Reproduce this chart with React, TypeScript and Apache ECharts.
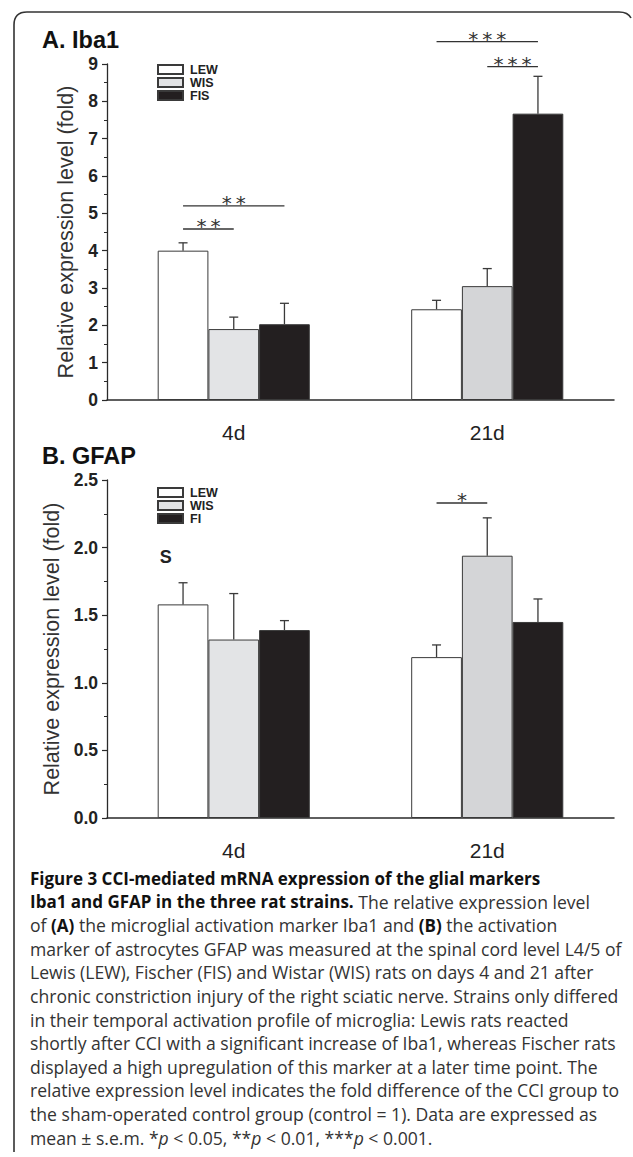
import React, { useEffect, useRef } from "react";
import * as echarts from "echarts";

// ---------- data ----------
const categories = ["4d", "21d"];
const namesA = ["LEW", "WIS", "FIS"];
const namesB = ["LEW", "WIS", "FI"];

// A. Iba1 (means and upper ends of the error bars), per category [4d, 21d]
const iba1LEW = [4.0, 2.43];
const iba1WIS = [1.9, 3.05];
const iba1FIS = [2.03, 7.67];
const iba1LEWTop = [4.21, 2.67];
const iba1WISTop = [2.22, 3.52];
const iba1FISTop = [2.59, 8.67];

// B. GFAP
const gfapLEW = [1.58, 1.19];
const gfapWIS = [1.32, 1.94];
const gfapFI = [1.39, 1.45];
const gfapLEWTop = [1.74, 1.28];
const gfapWISTop = [1.66, 2.22];
const gfapFITop = [1.46, 1.62];

// significance bars: [category, fromBar, toBar, y]
const iba1Sig = [
  [0, 0, 2, 5.2],
  [0, 0, 1, 4.58],
  [1, 0, 2, 9.6],
  [1, 1, 2, 8.93],
];
const iba1SigLabels = ["**", "**", "***", "***"];
const gfapSig = [[1, 0, 1, 2.33]];
const gfapSigLabels = ["*"];
// notes: [category, bar, y]
const gfapNotes = [[0, 0, 1.93]];
const gfapNoteLabels = ["S"];

const iba1Ticks = { min: 0, max: 9, interval: 1 };
const gfapTicks = { min: 0, max: 2.5, interval: 0.5 };

const captionLines = [
  "{b|Figure 3 CCI-mediated mRNA expression of the glial markers}",
  "{b|Iba1 and GFAP in the three rat strains.} The relative expression level",
  "of {b|(A)} the microglial activation marker Iba1 and {b|(B)} the activation",
  "marker of astrocytes GFAP was measured at the spinal cord level L4/5 of",
  "Lewis (LEW), Fischer (FIS) and Wistar (WIS) rats on days 4 and 21 after",
  "chronic constriction injury of the right sciatic nerve. Strains only differed",
  "in their temporal activation profile of microglia: Lewis rats reacted",
  "shortly after CCI with a significant increase of Iba1, whereas Fischer rats",
  "displayed a high upregulation of this marker at a later time point. The",
  "relative expression level indicates the fold difference of the CCI group to",
  "the sham-operated control group (control = 1). Data are expressed as",
  "mean ± s.e.m. *{i|p} < 0.05, **{i|p} < 0.01, ***{i|p} < 0.001.",
];

// ---------- style ----------
const W = 633;
const H = 1157;
const BAR_FRAC = 0.2;
const FILLS = ["#ffffff", "#e2e3e5", "#231f20"];
const WIS_FILLS = ["#e3e4e6", "#d4d5d7"];
const EDGE = "#3a3a3a";
const AX = "#2a2a2a";
const FONT = '"Liberation Sans", Arial, sans-serif';
const CAP_FONT = '"Open Sans"';
const CAP_SIZE = 17.6;
const CAP_BOLD = 17.0;

echarts.graphic.registerShape(
  "frameBorder",
  echarts.graphic.extendPath(
    "M14 1152 L14 25 Q14 12 27 12 L619 12 Q628 12 631 18",
    {}
  )
);

function barSeries(name: string, values: number[], idx: number, gi: number) {
  return {
    type: "bar",
    name,
    xAxisIndex: gi,
    yAxisIndex: gi,
    data: values.map((v, c) =>
      idx === 1 ? { value: v, itemStyle: { color: WIS_FILLS[c] } } : v
    ),
    barWidth: "20%",
    barGap: "0%",
    itemStyle: { color: FILLS[idx], borderColor: EDGE, borderWidth: 1 },
    z: 2,
  };
}

function errorSeries(means: number[][], tops: number[][], gi: number) {
  const data: number[][] = [];
  means.forEach((m, b) =>
    m.forEach((v, c) => data.push([c, b, v, tops[b][c]]))
  );
  return {
    type: "custom",
    xAxisIndex: gi,
    yAxisIndex: gi,
    data,
    encode: { x: 0, y: 2 },
    z: 3,
    silent: true,
    renderItem: (params: any, api: any) => {
      const cat = api.value(0);
      const bar = api.value(1);
      const base = api.coord([cat, api.value(2)]);
      const top = api.coord([cat, api.value(3)]);
      const band = api.size([1, 0])[0];
      const x = base[0] + (bar - 1) * band * BAR_FRAC;
      const st = { stroke: "#3a3a3a", lineWidth: 1.3 };
      return {
        type: "group",
        children: [
          { type: "line", shape: { x1: x, y1: base[1], x2: x, y2: top[1] }, style: st },
          { type: "line", shape: { x1: x - 4.5, y1: top[1], x2: x + 4.5, y2: top[1] }, style: st },
        ],
      };
    },
  };
}

function sigSeries(sig: number[][], labels: string[], gi: number) {
  return {
    type: "custom",
    xAxisIndex: gi,
    yAxisIndex: gi,
    data: sig,
    encode: { x: 0, y: 3 },
    z: 4,
    silent: true,
    clip: false,
    renderItem: (params: any, api: any) => {
      const cat = api.value(0);
      const from = api.value(1);
      const to = api.value(2);
      const c = api.coord([cat, api.value(3)]);
      const band = api.size([1, 0])[0];
      const bw = band * BAR_FRAC;
      const x1 = c[0] + (from - 1) * bw;
      const x2 = c[0] + (to - 1) * bw;
      return {
        type: "group",
        children: [
          { type: "line", shape: { x1, y1: c[1], x2, y2: c[1] }, style: { stroke: "#333", lineWidth: 1.3 } },
          {
            type: "text",
            x: (x1 + x2) / 2,
            y: c[1] + 7,
            style: {
              text: labels[params.dataIndex].split("").join("\u2009"),
              fontFamily: '"DejaVu Sans"',
              fontSize: 20,
              fill: "#333",
              align: "center",
              verticalAlign: "bottom",
            },
          },
        ],
      };
    },
  };
}

function noteSeries(notes: number[][], labels: string[], gi: number) {
  return {
    type: "custom",
    xAxisIndex: gi,
    yAxisIndex: gi,
    data: notes,
    encode: { x: 0, y: 2 },
    z: 4,
    silent: true,
    renderItem: (params: any, api: any) => {
      const cat = api.value(0);
      const bar = api.value(1);
      const c = api.coord([cat, api.value(2)]);
      const band = api.size([1, 0])[0];
      const bw = band * BAR_FRAC;
      const left = c[0] + (bar - 1) * bw - bw / 2;
      return {
        type: "text",
        x: left + 2,
        y: c[1],
        style: {
          text: labels[params.dataIndex],
          fontFamily: FONT,
          fontWeight: "bold",
          fontSize: 18,
          fill: "#222",
          align: "left",
          verticalAlign: "middle",
        },
      };
    },
  };
}

function yAxis(gi: number, t: { min: number; max: number; interval: number }, dec: number) {
  return {
    type: "value",
    gridIndex: gi,
    min: t.min,
    max: t.max,
    interval: t.interval,
    name: "Relative expression level (fold)",
    nameLocation: "middle",
    nameRotate: 90,
    nameGap: 30,
    nameTextStyle: { fontFamily: FONT, fontSize: 21.5, color: "#333" },
    axisLine: { show: true, lineStyle: { color: AX, width: 1.3 } },
    axisTick: { show: true, inside: false, length: 5, lineStyle: { color: AX, width: 1.2 } },
    minorTick: { show: true, splitNumber: 2, length: 3, lineStyle: { color: AX, width: 1 } },
    splitLine: { show: false },
    axisLabel: {
      fontFamily: FONT,
      fontWeight: "bold",
      fontSize: 17.5,
      color: "#222",
      margin: 9,
      formatter: (v: number) => v.toFixed(dec),
    },
  };
}

function xAxis(gi: number) {
  return {
    type: "category",
    gridIndex: gi,
    data: categories,
    axisLine: { show: true, lineStyle: { color: AX, width: 1.5 } },
    axisTick: { show: false },
    axisLabel: { fontFamily: FONT, fontSize: 21, color: "#222", margin: 22 },
  };
}

function legend(names: string[], top: number) {
  return {
    data: names,
    orient: "vertical",
    left: 157,
    top,
    padding: 0,
    itemWidth: 25,
    itemHeight: 9,
    itemGap: 0,
    icon: "rect",
    selectedMode: false,
    textStyle: { fontFamily: FONT, fontWeight: "bold", fontSize: 12.5, color: "#222", lineHeight: 9, padding: [0, 0, 0, 2] },
  };
}

export default function App() {
  const ref = useRef<HTMLDivElement>(null);
  useEffect(() => {
    if (!ref.current) return;
    const chart = echarts.init(ref.current, null, { renderer: "svg", width: W, height: H });

    const graphic: any[] = [
      {
        type: "frameBorder",
        x: 0,
        y: 0,
        silent: true,
        style: { fill: null, stroke: "#333", lineWidth: 1.6 },
      },
      {
        type: "text",
        x: 42,
        y: 40,
        style: { text: "A. Iba1", fontFamily: FONT, fontWeight: "bold", fontSize: 23.5, fill: "#111", verticalAlign: "middle" },
      },
      {
        type: "text",
        x: 42,
        y: 456,
        style: { text: "B. GFAP", fontFamily: FONT, fontWeight: "bold", fontSize: 23.5, fill: "#111", verticalAlign: "middle" },
      },
      ...captionLines.map((t, i) => ({
        type: "text",
        x: 30,
        y: 878 + i * 23.6,
        style: {
          text: t,
          fontFamily: CAP_FONT,
          fontSize: CAP_SIZE,
          fill: "#333",
          verticalAlign: "middle",
          rich: {
            b: { fontFamily: CAP_FONT, fontSize: CAP_BOLD, fontWeight: "bold", fill: "#111" },
            i: { fontFamily: CAP_FONT, fontSize: CAP_SIZE, fontStyle: "italic", fill: "#333" },
          },
        },
      })),
    ];

    const option: any = {
      animation: false,
      backgroundColor: "#ffffff",
      grid: [
        { left: 107, right: 19, top: 64, height: 336, outerBoundsMode: "none", containLabel: false },
        { left: 107, right: 19, top: 480, height: 338, outerBoundsMode: "none", containLabel: false },
      ],
      xAxis: [xAxis(0), xAxis(1)],
      yAxis: [yAxis(0, iba1Ticks, 0), yAxis(1, gfapTicks, 1)],
      legend: [legend(namesA, 63), legend(namesB, 486)],
      tooltip: { show: false },
      series: [
        barSeries(namesA[0], iba1LEW, 0, 0),
        barSeries(namesA[1], iba1WIS, 1, 0),
        barSeries(namesA[2], iba1FIS, 2, 0),
        errorSeries([iba1LEW, iba1WIS, iba1FIS], [iba1LEWTop, iba1WISTop, iba1FISTop], 0),
        sigSeries(iba1Sig, iba1SigLabels, 0),
        barSeries(namesB[0], gfapLEW, 0, 1),
        barSeries(namesB[1], gfapWIS, 1, 1),
        barSeries(namesB[2], gfapFI, 2, 1),
        errorSeries([gfapLEW, gfapWIS, gfapFI], [gfapLEWTop, gfapWISTop, gfapFITop], 1),
        sigSeries(gfapSig, gfapSigLabels, 1),
        noteSeries(gfapNotes, gfapNoteLabels, 1),
      ],
      graphic,
    };
    chart.setOption(option);
    return () => chart.dispose();
  }, []);
  return (
    <div
      ref={ref}
      style={{ position: "absolute", left: 0, top: 0, width: W, height: H, background: "#fff" }}
    />
  );
}
